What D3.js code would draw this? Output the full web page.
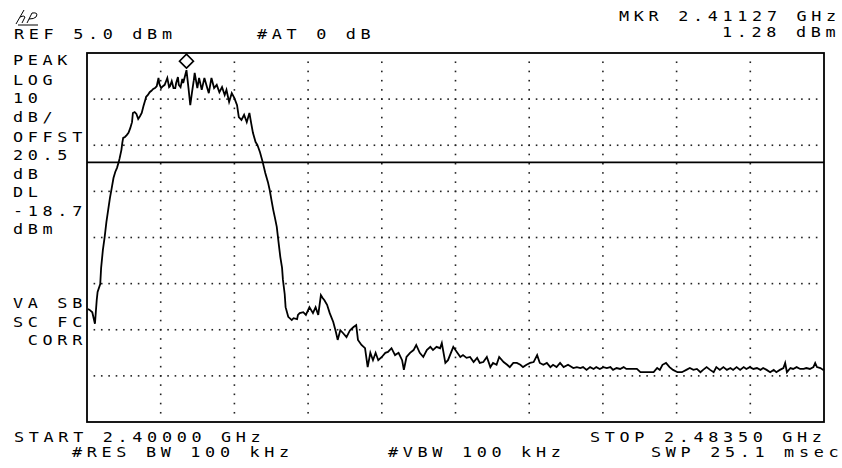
<!DOCTYPE html>
<html><head><meta charset="utf-8">
<script src="https://cdn.jsdelivr.net/npm/d3@7"></script>
<style>
html,body{margin:0;padding:0;background:#fff;}
svg text{font-family:"DejaVu Sans Mono",monospace;font-size:14px;letter-spacing:3.9px;fill:#000;}
</style></head>
<body><svg id="c" width="842" height="468"></svg>
<script>
// ---- data ----
const startMHz = 2400.0, stopMHz = 2483.5;
const refLevel = 5.0, dbPerDiv = 10, nDivY = 8, nDivX = 10;
const displayLine = -18.7;
const markerMHz = 2411.27, markerDbm = 1.28;

const freqMHz = [2400.1,2400.3,2400.6,2400.8,2400.9,2401.1,2401.2,2401.5,2401.6,2401.8,2402.0,2402.2,2402.4,2402.6,2402.8,2403.0,2403.2,2403.4,2403.6,2403.7,2403.9,2404.0,2404.1,2404.3,2404.5,2404.7,2404.9,2405.1,2405.2,2405.4,2405.6,2405.8,2406.0,2406.2,2406.4,2406.6,2406.7,2406.9,2407.1,2407.3,2407.5,2407.7,2407.9,2408.1,2408.2,2408.4,2408.6,2408.8,2409.0,2409.1,2409.3,2409.4,2409.6,2409.8,2410.0,2410.1,2410.3,2410.4,2410.6,2410.8,2410.9,2411.27,2411.5,2411.7,2411.9,2412.1,2412.2,2412.5,2412.7,2413.0,2413.3,2413.6,2413.8,2414.1,2414.4,2414.7,2415.0,2415.3,2415.6,2415.8,2416.1,2416.4,2416.7,2417.0,2417.2,2417.5,2417.8,2418.1,2418.4,2418.6,2418.8,2419.1,2419.3,2419.6,2419.9,2420.2,2420.5,2420.7,2420.9,2421.1,2421.3,2421.5,2421.7,2421.9,2422.1,2422.2,2422.4,2422.5,2422.8,2423.2,2423.4,2423.8,2423.9,2424.1,2424.5,2424.8,2425.2,2425.6,2425.9,2426.2,2426.5,2426.7,2426.9,2427.2,2427.5,2427.9,2428.2,2428.4,2428.7,2429.0,2429.4,2429.8,2430.2,2430.5,2430.7,2431.1,2431.5,2431.8,2432.1,2432.4,2432.7,2433.0,2433.4,2433.8,2434.1,2434.5,2434.9,2435.3,2435.7,2435.9,2436.2,2436.6,2437.0,2437.3,2437.7,2438.1,2438.5,2438.9,2439.2,2439.6,2440.0,2440.2,2440.6,2440.9,2441.5,2441.9,2442.3,2442.6,2443.0,2443.4,2443.8,2444.2,2444.5,2444.9,2445.3,2445.7,2446.0,2446.4,2446.7,2447.2,2447.6,2447.9,2448.3,2448.7,2449.1,2449.4,2449.8,2450.2,2450.6,2451.0,2451.3,2451.7,2452.1,2452.5,2452.8,2453.2,2453.6,2454.0,2454.5,2455.1,2455.5,2455.9,2456.2,2456.6,2457.0,2457.4,2457.7,2458.1,2458.5,2458.9,2459.3,2459.6,2460.0,2460.4,2460.8,2461.1,2461.7,2462.3,2462.7,2463.6,2464.2,2464.6,2464.9,2465.2,2465.6,2466.0,2466.4,2466.9,2467.4,2467.9,2468.3,2468.7,2469.1,2469.5,2469.8,2470.2,2470.6,2471.0,2471.3,2471.7,2472.1,2472.5,2472.9,2473.2,2473.6,2474.0,2474.4,2474.7,2475.1,2475.5,2475.9,2476.3,2476.6,2477.0,2477.4,2477.8,2478.1,2478.5,2478.9,2479.1,2479.3,2479.7,2480.0,2480.4,2480.8,2481.2,2481.5,2481.9,2482.3,2482.5,2482.7,2483.1,2483.4,2483.5];

const levelDbm = [-50.5,-50.7,-51.2,-52.9,-53.7,-48.6,-46.8,-45.1,-41.6,-37.7,-34.9,-31.6,-29.0,-26.4,-24.3,-22.1,-20.8,-19.9,-18.6,-17.8,-16.0,-14.5,-13.4,-13.2,-12.8,-12.3,-11.3,-10.0,-8.0,-7.8,-8.2,-9.3,-8.7,-8.0,-6.5,-5.2,-4.5,-4.1,-3.5,-3.2,-2.8,-2.6,-2.2,-0.4,-1.7,-2.6,-2.2,-1.9,-0.9,-0.4,-2.4,-2.2,-1.1,-2.6,-2.6,-1.5,-0.2,-1.9,-2.4,-0.6,-1.5,1.28,-2.6,-6.3,-3.5,-0.9,0.7,-2.6,-0.4,-3.0,-0.4,-2.4,-3.7,-0.4,-2.6,-1.9,-3.5,-2.4,-4.1,-3.0,-5.6,-3.7,-4.8,-6.3,-8.9,-9.5,-8.4,-10.0,-8.0,-10.2,-12.3,-14.3,-14.9,-16.5,-18.6,-21.0,-23.0,-24.7,-26.9,-29.0,-30.8,-32.7,-36.0,-39.2,-41.6,-44.2,-47.3,-50.1,-52.2,-52.9,-52.5,-52.7,-51.8,-51.4,-51.2,-51.8,-50.1,-51.4,-50.1,-51.8,-47.5,-48.1,-48.6,-49.6,-51.4,-53.3,-55.5,-57.2,-55.1,-55.7,-56.6,-55.1,-54.4,-54.0,-57.2,-58.3,-59.0,-63.1,-60.0,-61.6,-60.0,-61.6,-60.9,-60.0,-59.8,-59.0,-60.5,-60.0,-61.6,-63.7,-60.9,-60.0,-59.4,-58.3,-60.0,-60.9,-59.4,-58.7,-59.4,-58.7,-59.0,-57.9,-62.2,-61.6,-58.7,-59.8,-60.9,-60.5,-61.1,-60.9,-62.0,-61.1,-62.2,-62.0,-60.9,-63.1,-62.2,-62.6,-60.9,-62.0,-62.6,-63.1,-62.2,-62.2,-62.6,-63.1,-62.6,-62.2,-62.0,-60.5,-62.2,-62.6,-62.2,-63.1,-62.6,-63.1,-62.2,-63.1,-62.6,-63.3,-63.1,-63.3,-63.1,-63.7,-63.1,-63.5,-63.1,-63.5,-63.1,-63.3,-63.1,-63.7,-63.3,-63.5,-63.1,-63.5,-63.5,-63.5,-64.2,-64.2,-64.2,-63.3,-63.7,-62.6,-62.2,-63.1,-63.7,-64.2,-64.2,-63.7,-63.3,-63.7,-63.5,-64.2,-63.7,-63.1,-63.7,-64.2,-63.1,-63.7,-63.1,-63.7,-63.3,-63.7,-63.1,-63.7,-63.1,-63.5,-63.1,-63.5,-63.3,-63.7,-63.3,-63.7,-64.2,-63.7,-64.2,-63.7,-63.3,-62.2,-64.2,-63.3,-63.5,-63.1,-63.5,-63.5,-63.3,-63.5,-63.1,-62.2,-63.1,-63.3,-63.7,-63.5];

const headerLeft = ["REF 5.0 dBm", "#AT 0 dB"];
const headerRight = ["MKR 2.41127 GHz", "1.28 dBm"];
const sideLabels = ["PEAK","LOG","10","dB/","OFFST","20.5","dB","DL","-18.7","dBm"];
const sideLabels2 = ["VA SB","SC FC"," CORR"];
const footer = ["START 2.40000 GHz","STOP 2.48350 GHz"];
const footer2 = ["#RES BW 100 kHz","#VBW 100 kHz","SWP 25.1 msec"];

// ---- layout ----
const svg = d3.select("#c");
const L = 87, R = 824, T = 53, B = 422;
const x = d3.scaleLinear().domain([startMHz, stopMHz]).range([L, R]);
const y = d3.scaleLinear().domain([refLevel - dbPerDiv*nDivY, refLevel]).range([B, T]);

// grid dots
const xTicks = d3.range(1, nDivX).map(i => startMHz + i*(stopMHz-startMHz)/nDivX);
const yTicks = d3.range(1, nDivY).map(i => refLevel - i*dbPerDiv);
const g = svg.append("g");
const hStep = (stopMHz-startMHz)/(nDivX*10);
const vStep = dbPerDiv/5;
yTicks.forEach(v => {
  const pts = d3.range(1, nDivX*10).map(k => startMHz + k*hStep);
  g.selectAll(null).data(pts).enter().append("rect")
    .attr("x", d => x(d)-0.8).attr("y", y(v)-0.8).attr("width",1.6).attr("height",1.6).attr("fill","#222");
});
xTicks.forEach(f => {
  const pts = d3.range(1, nDivY*5).map(k => refLevel - k*vStep);
  g.selectAll(null).data(pts).enter().append("rect")
    .attr("x", x(f)-0.8).attr("y", d => y(d)-0.8).attr("width",1.6).attr("height",1.6).attr("fill","#222");
});

// frame
svg.append("rect").attr("x",L).attr("y",T).attr("width",R-L).attr("height",B-T)
  .attr("fill","none").attr("stroke","#000").attr("stroke-width",1.8);

// display line
svg.append("line").attr("x1",L).attr("x2",R).attr("y1",y(displayLine)).attr("y2",y(displayLine))
  .attr("stroke","#000").attr("stroke-width",1.8);

// trace
const trace = freqMHz.map((f,i)=>[f, levelDbm[i]]);
svg.append("path").datum(trace)
  .attr("d", d3.line().x(d=>x(d[0])).y(d=>y(d[1])))
  .attr("fill","none").attr("stroke","#000").attr("stroke-width",1.8).attr("stroke-linejoin","miter");

// marker diamond
const mx = x(markerMHz), my = y(markerDbm) - 2;
svg.append("path")
  .attr("d", `M${mx},${my} L${mx+7},${my-7} L${mx},${my-14} L${mx-7},${my-7} Z`)
  .attr("fill","#fff").attr("stroke","#000").attr("stroke-width",1.6);

// hp logo
const logo = svg.append("g").attr("transform","translate(16,10)");
logo.append("path").attr("d","M0,14 L8,0 M4,7 Q8,5 9,7 L6,13 M11,13 L16,3 Q23,2 20,7 Q18,9 13,9 M2,15 L22,15")
  .attr("fill","none").attr("stroke","#000").attr("stroke-width",1);

// texts (wide HP-style monospaced lettering)
function txt(s, tx, ty){
  svg.append("text").attr("transform",`translate(${tx},${ty}) scale(1.2,1)`)
    .attr("xml:space","preserve").text(s);
}
txt(headerLeft[0], 14, 39);
txt(headerLeft[1], 257, 39);
txt(headerRight[0], 619, 21);
txt(headerRight[1], 722, 37);
const sideY = [65,85,103,122,141.5,160,178.5,197,216,234];
sideLabels.forEach((s,i)=>txt(s, 13, sideY[i]));
const side2Y = [308,326.5,345];
sideLabels2.forEach((s,i)=>txt(s, 13, side2Y[i]));
txt(footer[0], 14, 442);
txt(footer[1], 590, 442);
txt(footer2[0], 72, 457);
txt(footer2[1], 388, 457);
txt(footer2[2], 651, 457);
</script></body></html>
